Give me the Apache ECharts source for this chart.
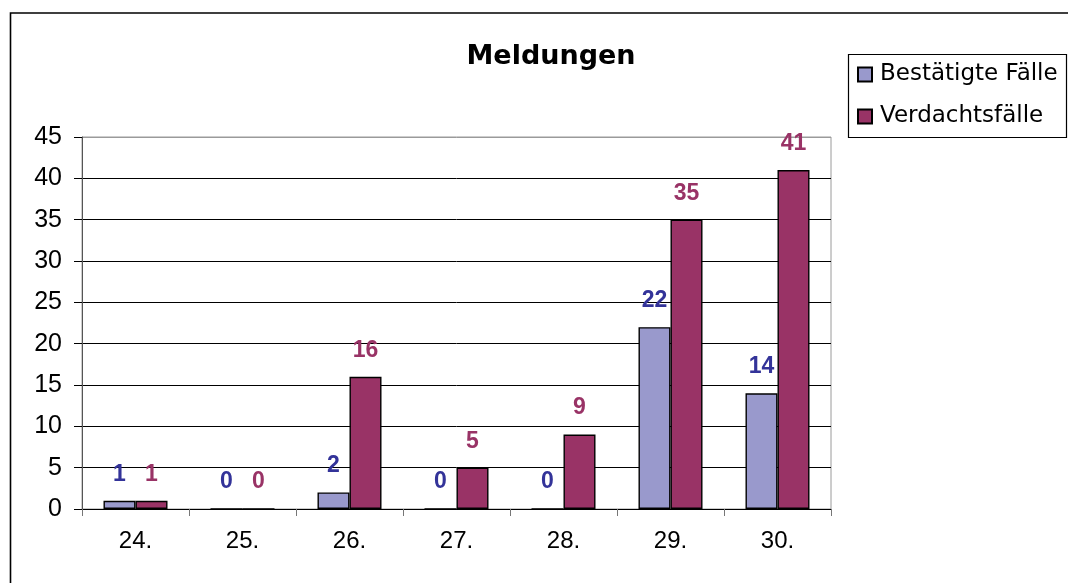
<!DOCTYPE html>
<html>
<head>
<meta charset="utf-8">
<script src="https://cdn.jsdelivr.net/npm/echarts@6/dist/echarts.min.js"></script>
<style>
html,body{margin:0;padding:0;background:#fff;}
#c{width:1068px;height:583px;}
</style>
</head>
<body>
<div id="c"></div>
<script>
const titleText = 'Meldungen';
const categories = ['24.', '25.', '26.', '27.', '28.', '29.', '30.'];
const seriesNames = ['Bestätigte Fälle', 'Verdachtsfälle'];
const confirmed = [1, 0, 2, 0, 0, 22, 14];
const suspected = [1, 0, 16, 5, 9, 35, 41];
const yMin = 0, yMax = 45, yStep = 5;

const chart = echarts.init(document.getElementById('c'), null, {renderer: 'canvas'});

const nLines = (yMax - yMin) / yStep + 1;
const splitColors = [];
for (let i = 0; i < nLines; i++) splitColors.push(i === nLines - 1 ? '#9a9a9a' : '#000000');

const labelFont = {fontFamily: '"Liberation Sans", Arial, sans-serif', fontSize: 23, fontWeight: 'bold'};

chart.setOption({
  animation: false,
  backgroundColor: '#ffffff',
  title: {
    text: titleText,
    left: 546,
    top: 38,
    textAlign: 'center',
    textStyle: {fontFamily: '"DejaVu Sans", sans-serif', fontSize: 27, fontWeight: 'bold', color: '#000'}
  },
  graphic: [
    {type: 'rect', silent: true, z: -10, shape: {x: 10.5, y: 13, width: 1100, height: 620},
     style: {fill: 'none', stroke: '#000', lineWidth: 1.6}},
    {type: 'rect', silent: true, z: 10, shape: {x: 848.5, y: 54.5, width: 218, height: 83},
     style: {fill: 'none', stroke: '#000', lineWidth: 1.2}}
  ],
  legend: {
    orient: 'vertical',
    left: 857,
    top: 63,
    padding: 0,
    itemGap: 19,
    itemWidth: 14,
    itemHeight: 14,
    icon: 'rect',
    textStyle: {fontFamily: '"DejaVu Sans", sans-serif', fontSize: 23, color: '#000', padding: [0, 0, 0, 3]},
    data: seriesNames
  },
  grid: {
    left: 82, right: 237, top: 137, bottom: 74,
    show: true, borderColor: '#9a9a9a', borderWidth: 1, backgroundColor: 'transparent'
  },
  xAxis: {
    type: 'category',
    data: categories,
    boundaryGap: true,
    axisLine: {lineStyle: {color: '#000', width: 1}},
    axisTick: {show: true, length: 7, lineStyle: {color: '#777'}},
    axisLabel: {margin: 20, color: '#000', fontFamily: '"Liberation Sans", Arial, sans-serif', fontSize: 24},
    splitLine: {show: false}
  },
  yAxis: {
    type: 'value',
    min: yMin, max: yMax, interval: yStep,
    axisLine: {show: true, lineStyle: {color: '#555', width: 1}},
    axisTick: {show: true, length: 8, lineStyle: {color: '#000'}},
    axisLabel: {margin: 20, color: '#000', fontFamily: '"Liberation Sans", Arial, sans-serif', fontSize: 25},
    splitLine: {show: true, lineStyle: {color: splitColors, width: 1}}
  },
  series: [
    {
      name: seriesNames[0], type: 'bar', data: confirmed,
      barWidth: 32, barGap: '0%',
      itemStyle: {color: '#9999CC', borderColor: '#000', borderWidth: 1.4},
      label: Object.assign({show: true, position: 'top', distance: 15, color: '#333399'}, labelFont)
    },
    {
      name: seriesNames[1], type: 'bar', data: suspected,
      barWidth: 32, barGap: '0%',
      itemStyle: {color: '#993366', borderColor: '#000', borderWidth: 1.4},
      label: Object.assign({show: true, position: 'top', distance: 15, color: '#993366'}, labelFont)
    }
  ]
});
</script>
</body>
</html>
